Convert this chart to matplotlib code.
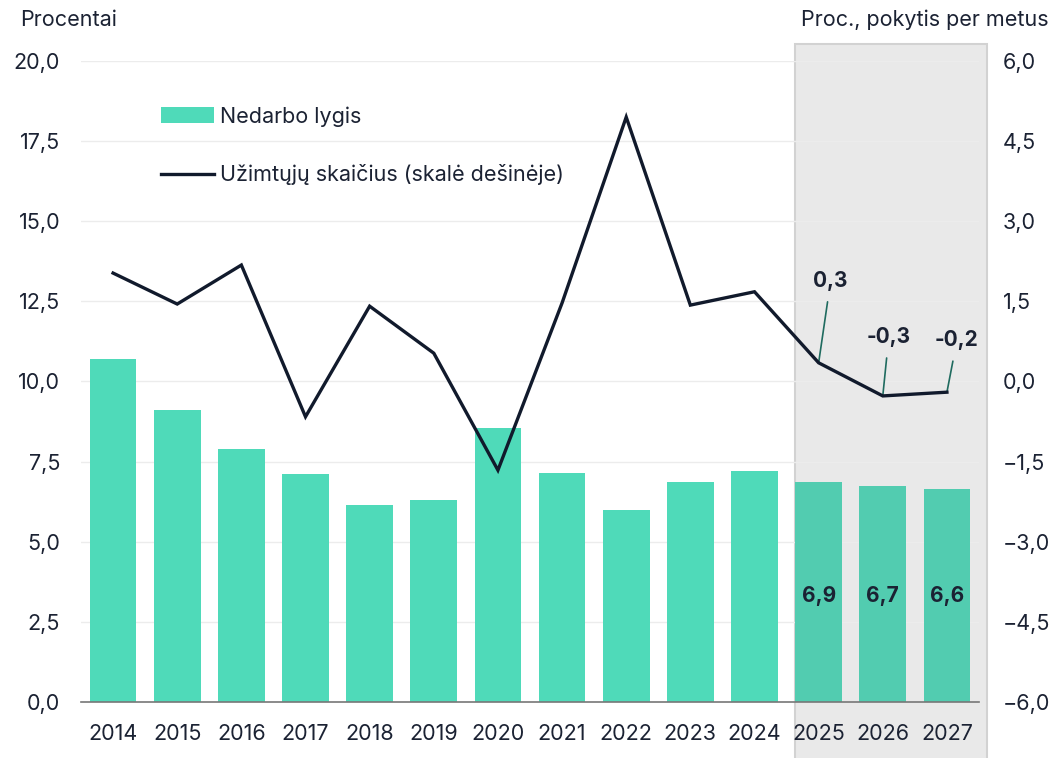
import matplotlib
matplotlib.use("Agg")
import matplotlib.pyplot as plt
from matplotlib.patches import Patch, Rectangle
from matplotlib.lines import Line2D
from matplotlib.ticker import FixedLocator, FuncFormatter
import matplotlib.transforms as mtransforms

plt.rcParams['font.family'] = ['Inter', 'DejaVu Sans']

years = ['2014', '2015', '2016', '2017', '2018', '2019', '2020',
         '2021', '2022', '2023', '2024', '2025', '2026', '2027']
unemployment = [10.7, 9.1, 7.9, 7.1, 6.15, 6.3, 8.55, 7.15, 6.0, 6.85, 7.2, 6.85, 6.75, 6.65]
employment = [2.03, 1.45, 2.18, -0.66, 1.41, 0.53, -1.66, 1.47, 4.95, 1.43, 1.68, 0.35, -0.27, -0.2]
forecast_from = 11
bar_labels = ['6,9', '6,7', '6,6']
line_labels = ['0,3', '-0,3', '-0,2']

teal = '#4fdab9'
teal_fc = '#52ccb0'
navy = '#111a2c'
txt = '#1b2233'
fs = 15.5

fig = plt.figure(figsize=(10.53, 7.58), dpi=100)
ax = fig.add_axes([81 / 1053, 1 - 702 / 758, 898 / 1053, 641 / 758])
ax2 = ax.twinx()

x = list(range(len(years)))

# forecast shading (extends past the axes)
trans = mtransforms.blended_transform_factory(ax.transData, ax.transAxes)
ax.add_patch(Rectangle((forecast_from - 0.37, -0.09), 3.0, 1.117, transform=trans,
                       facecolor='#e9e9e9', edgecolor='#d2d2d2', lw=1.5,
                       clip_on=False, zorder=0))

colors = [teal if i < forecast_from else teal_fc for i in x]
ax.bar(x, unemployment, width=0.73, color=colors, zorder=2)
for i, lab in zip(x[forecast_from:], bar_labels):
    ax.text(i, 3.3, lab, ha='center', va='center', fontsize=15,
            fontweight='bold', color=txt, zorder=3)

ax.set_xlim(-0.5, 13.5)
ax.set_ylim(0, 20)
ax.yaxis.set_major_locator(FixedLocator([0, 2.5, 5, 7.5, 10, 12.5, 15, 17.5, 20]))
ax.yaxis.set_major_formatter(FuncFormatter(lambda v, p: f"{v:.1f}".replace('.', ',')))
ax.grid(axis='y', color='#ececec', lw=1, zorder=0.5)
ax.set_axisbelow(True)
ax.set_xticks(x)
ax.set_xticklabels(years)
for s in ['top', 'right', 'left']:
    ax.spines[s].set_visible(False)
ax.spines['bottom'].set_color('#777777')
ax.spines['bottom'].set_linewidth(1.2)
ax.spines['bottom'].set_zorder(3)
ax.tick_params(axis='both', length=0, labelsize=fs, labelcolor=txt)
ax.tick_params(axis='y', pad=15)
ax.tick_params(axis='x', pad=16)

ax2.plot(x, employment, color=navy, lw=2.4, solid_joinstyle='miter', zorder=4)
ax2.set_ylim(-6, 6)
ax2.yaxis.set_major_locator(FixedLocator([-6, -4.5, -3, -1.5, 0, 1.5, 3, 4.5, 6]))
ax2.yaxis.set_major_formatter(FuncFormatter(
    lambda v, p: f"{v:.1f}".replace('.', ',').replace('-', '\u2212')))
ax2.tick_params(axis='y', length=0, labelsize=fs, labelcolor=txt, pad=17)
for s in ax2.spines.values():
    s.set_visible(False)

offsets = [(12, 72), (6, 49), (10, 42)]
for i, lab, off in zip(x[forecast_from:], line_labels, offsets):
    ax2.annotate(lab, xy=(i, employment[i]), xytext=off, textcoords='offset pixels',
                 ha='center', va='bottom', fontsize=15, fontweight='bold', color=txt,
                 arrowprops=dict(arrowstyle='-', color='#1f6b5f', lw=1.2,
                                 shrinkA=6, shrinkB=0))

handles = [Patch(facecolor=teal, edgecolor='none', label='Nedarbo lygis'),
           Line2D([], [], color=navy, lw=2.4, label='Užimtųjų skaičius (skalė dešinėje)')]
ax.legend(handles=handles, loc='upper left', bbox_to_anchor=(0.068, 0.96),
          frameon=False, fontsize=fs, handlelength=2.45, handletextpad=0.25,
          labelspacing=1.75, labelcolor=txt)

fig.text(20 / 1053, 1 - 20 / 758, 'Procentai', ha='left', va='center',
         fontsize=fs, color=txt)
fig.text(1049 / 1053, 1 - 20 / 758, 'Proc., pokytis per metus', ha='right',
         va='center', fontsize=fs, color=txt)

fig.savefig('out.png', dpi=100)
